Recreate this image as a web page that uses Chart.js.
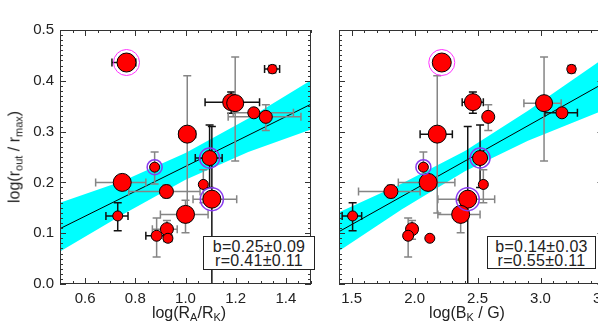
<!DOCTYPE html>
<html>
<head>
<meta charset="utf-8">
<script src="https://cdn.jsdelivr.net/npm/chart.js@4.4.0/dist/chart.umd.min.js"></script>
<style>
  html, body { margin: 0; padding: 0; background: #fff; overflow: hidden; width: 598px; height: 332px; }
  #wrap { position: relative; width: 640px; height: 332px; }
  canvas { position: absolute; top: 0; }
  #cL { left: 0; }
  #cR { left: 325px; }
  .lbl { position: absolute; font-family: 'Liberation Sans', Arial, sans-serif; font-size: 16px; color: #222; white-space: nowrap; z-index: 2; }
  .lbl sub { font-size: 11px; vertical-align: -3px; }
  .box { position: absolute; z-index: 2; border: 1px solid #222; background: #fff; box-sizing: border-box;
         font-family: 'Liberation Sans', Arial, sans-serif; font-size: 16px; line-height: 14px; color: #222;
         text-align: center; padding-top: 3px; letter-spacing: 0.3px; }
</style>
</head>
<body>
<div id="wrap">
  <canvas id="cL" width="325" height="332"></canvas>
  <canvas id="cR" width="300" height="332"></canvas>
  <div class="lbl" style="left:15px;top:157px;transform:translate(-50%,-50%) rotate(-90deg);">log(r<sub>out</sub> / r<sub>max</sub>)</div>
  <div class="lbl" style="left:189px;top:304px;transform:translateX(-50%);">log(R<sub>A</sub>/R<sub>K</sub>)</div>
  <div class="lbl" style="left:467px;top:304px;transform:translateX(-50%);">log(B<sub>K</sub> / G)</div>
  <div class="box" style="left:203px;top:236px;width:112px;height:34px;">b=0.25±0.09<br>r=0.41±0.11</div>
  <div class="box" style="left:487px;top:236px;width:109px;height:33px;">b=0.14±0.03<br>r=0.55±0.11</div>
</div>
<script>
// valeurs (un point par source, même ordre partout)
const logRout = [0.436, 0.423, 0.358, 0.356, 0.337, 0.329, 0.295, 0.248, 0.230, 0.200, 0.196, 0.182, 0.167, 0.137, 0.134, 0.108, 0.095, 0.090];
const yErrLo  = [null, 0.416, 0.336, 0.242, null, 0.302, 0.140, 0.190, 0.197, null, 0.160, 0.170, -0.05, 0.101, 0.105, 0.088, 0.053, null];
const yErrHi  = [null, 0.430, 0.378, 0.447, null, 0.353, 0.410, 0.313, 0.260, null, 0.225, 0.195, 0.310, 0.165, 0.160, 0.125, 0.130, null];

const logRatio   = [0.765, 1.346, 1.182, 1.198, 1.272, 1.320, 1.007, 1.096, 0.877, 0.748, 1.071, 0.924, 1.105, 1.000, 0.730, 0.926, 0.885, 0.930];
const ratioErrLo = [0.707, 1.315, 1.078, null, 1.190, 1.170, 0.975, 1.039, null, 0.642, 1.062, 0.774, 1.030, 0.900, 0.683, 0.868, 0.842, 0.915];
const ratioErrHi = [0.802, 1.375, 1.295, null, 1.430, 1.460, 1.040, 1.146, null, 0.842, 1.080, 1.058, 1.204, 1.090, 0.771, 0.967, 0.917, 0.945];

const logField   = [2.216, 3.246, 2.463, 3.028, 3.170, 2.585, 2.180, 2.520, 2.070, 2.108, 2.546, 1.812, 2.422, 2.366, 1.508, 1.980, 1.949, 2.121];
const fieldErrLo = [null, 3.235, 2.378, 2.868, 3.035, null, 2.044, 2.490, null, 1.871, 2.530, 1.555, 2.185, 2.185, 1.425, 1.950, null, 2.105];
const fieldErrHi = [null, 3.260, 2.546, 3.164, 3.293, null, 2.300, 2.560, null, 2.320, 2.565, 2.044, 2.636, 2.520, 1.580, 2.020, null, 2.140];

// points entourés
const magentaIdx = [0];
const violetIdx = [7, 8, 12];

// ajustement + bande de confiance
const ratioFitX = [0.5, 1.5];
const ratioFitY = [0.109, 0.354];
const ratioBandX  = [0.5, 0.75, 1.0, 1.25, 1.5];
const ratioBandHi = [0.160, 0.203, 0.258, 0.326, 0.401];
const ratioBandLo = [0.064, 0.137, 0.205, 0.260, 0.304];

const fieldFitX = [1.4, 3.5];
const fieldFitY = [0.103, 0.395];
const fieldBandX  = [1.4, 1.9, 2.4, 2.9, 3.5];
const fieldBandHi = [0.141, 0.198, 0.262, 0.341, 0.444];
const fieldBandLo = [0.065, 0.147, 0.222, 0.282, 0.342];

// étiquettes des axes
const ratioTicks = [0.6, 0.8, 1.0, 1.2, 1.4];
const fieldTicks = [1.5, 2.0, 2.5, 3.0, 3.5];
const routTicks  = [0.0, 0.1, 0.2, 0.3, 0.4, 0.5];

// style : taille des symboles, teinte des barres (k = noir, g = gris)
const markerR = [9.5, 4.7, 8.5, 8.5, 6, 6.5, 9, 7.5, 5, 9, 5, 7, 9, 9, 5, 6.5, 5.5, 5];
const yShade     = ['k','k','k','g','k','g','g','k','g','k','g','g','k','g','k','g','g','k'];
const ratioShade = ['k','k','k','k','g','g','k','k','k','g','k','g','g','g','k','g','k','k'];
const fieldShade = ['k','k','k','g','k','k','k','k','k','g','k','g','g','g','k','k','k','k'];

const FONT = "'Liberation Sans', Arial, sans-serif";
const shadeColor = s => (s === 'g' ? '#858585' : '#111');

// barres d'erreur, dessinées juste avant les symboles
const errBars = {
  id: 'errBars',
  beforeDatasetDraw(chart, args, o) {
    if (chart.data.datasets[args.index].label !== 'pts') return;
    const { ctx, chartArea: a, scales: { x, y } } = chart;
    const cap = 4;
    ctx.save();
    ctx.beginPath();
    ctx.rect(a.left, a.top, a.right - a.left, a.bottom - a.top);
    ctx.clip();
    ctx.lineWidth = 1.5;
    for (let i = 0; i < o.xs.length; i++) {
      const px = x.getPixelForValue(o.xs[i]);
      const py = y.getPixelForValue(logRout[i]);
      if (yErrLo[i] !== null) {
        const y1 = y.getPixelForValue(yErrLo[i]), y2 = y.getPixelForValue(yErrHi[i]);
        ctx.strokeStyle = shadeColor(yShade[i]);
        ctx.beginPath();
        ctx.moveTo(px, y1); ctx.lineTo(px, y2);
        ctx.moveTo(px - cap, y1); ctx.lineTo(px + cap, y1);
        ctx.moveTo(px - cap, y2); ctx.lineTo(px + cap, y2);
        ctx.stroke();
      }
      if (o.lo[i] !== null) {
        const x1 = x.getPixelForValue(o.lo[i]), x2 = x.getPixelForValue(o.hi[i]);
        ctx.strokeStyle = shadeColor(o.shade[i]);
        ctx.beginPath();
        ctx.moveTo(x1, py); ctx.lineTo(x2, py);
        ctx.moveTo(x1, py - cap); ctx.lineTo(x1, py + cap);
        ctx.moveTo(x2, py - cap); ctx.lineTo(x2, py + cap);
        ctx.stroke();
      }
    }
    ctx.restore();
  }
};

// cadre + graduations intérieures façon IDL
const frame = {
  id: 'frame',
  afterDraw(chart, args, o) {
    const { ctx, chartArea: a, scales: { x, y } } = chart;
    ctx.save();
    ctx.strokeStyle = '#333';
    ctx.lineWidth = 1;
    ctx.strokeRect(Math.round(a.left) + 0.5, Math.round(a.top) + 0.5,
                   Math.round(a.right - a.left) - 1, Math.round(a.bottom - a.top) - 1);
    ctx.beginPath();
    const nx = Math.round((x.max - x.min) / o.xMinor);
    for (let k = 0; k <= nx; k++) {
      const v = x.min + k * o.xMinor;
      const r = v / o.xMajor;
      const len = Math.abs(r - Math.round(r)) < 1e-6 ? 6 : 3;
      const px = Math.round(x.getPixelForValue(v)) + 0.5;
      ctx.moveTo(px, a.bottom); ctx.lineTo(px, a.bottom - len);
      ctx.moveTo(px, a.top); ctx.lineTo(px, a.top + len);
    }
    const ny = Math.round((y.max - y.min) / 0.01);
    for (let k = 0; k <= ny; k++) {
      const v = y.min + k * 0.01;
      const len = k % 10 === 0 ? 6 : 3;
      const py = Math.round(y.getPixelForValue(v)) + 0.5;
      ctx.moveTo(a.left, py); ctx.lineTo(a.left + len, py);
      ctx.moveTo(a.right, py); ctx.lineTo(a.right - len, py);
    }
    ctx.stroke();
    ctx.restore();
  }
};

function makePanel(id, p) {
  const pts = p.xs.map((x, i) => ({ x: x, y: logRout[i] }));
  const ring = idx => idx.map(i => ({ x: p.xs[i], y: logRout[i] }));
  const xy = (xs, ys) => xs.map((x, i) => ({ x: x, y: ys[i] }));

  return new Chart(document.getElementById(id), {
    type: 'scatter',
    data: {
      datasets: [
        { label: 'ringM', data: ring(magentaIdx), pointRadius: magentaIdx.map(i => markerR[i] + 3.5),
          pointBackgroundColor: 'rgba(0,0,0,0)', pointBorderColor: '#ff33ff', pointBorderWidth: 1, order: 0 },
        { label: 'ringV', data: ring(violetIdx), pointRadius: violetIdx.map(i => markerR[i] + 2.5),
          pointBackgroundColor: 'rgba(0,0,0,0)', pointBorderColor: '#8a3cf0', pointBorderWidth: 1.5, order: 0 },
        { label: 'pts', data: pts, pointRadius: markerR, pointBackgroundColor: '#ff0000',
          pointBorderColor: '#000', pointBorderWidth: 1, order: 1 },
        { type: 'line', label: 'fit', data: xy(p.fitX, p.fitY), borderColor: '#000', borderWidth: 1,
          pointRadius: 0, fill: false, order: 2 },
        { type: 'line', label: 'bandHi', data: xy(p.bandX, p.bandHi), borderColor: 'rgba(0,0,0,0)',
          borderWidth: 1, pointRadius: 0, fill: '+1', backgroundColor: '#00ffff', order: 3 },
        { type: 'line', label: 'bandLo', data: xy(p.bandX, p.bandLo), borderColor: 'rgba(0,0,0,0)',
          borderWidth: 1, pointRadius: 0, fill: false, order: 4 }
      ]
    },
    options: {
      responsive: false,
      animation: false,
      events: [],
      layout: { padding: { top: 30, right: p.padRight, left: 0, bottom: 0 } },
      plugins: {
        legend: { display: false },
        tooltip: { enabled: false },
        errBars: { xs: p.xs, lo: p.lo, hi: p.hi, shade: p.shade },
        frame: { xMinor: p.xMinor, xMajor: p.xMajor }
      },
      scales: {
        x: {
          type: 'linear', min: p.xMin, max: p.xMax,
          afterBuildTicks: s => { s.ticks = p.xTicks.map(v => ({ value: v })); },
          afterFit: s => { s.height = 48; },
          grid: { display: false, drawTicks: false },
          border: { display: false },
          ticks: { padding: 6, autoSkip: false, maxRotation: 0, color: '#222',
                   font: { family: FONT, size: 15 }, callback: v => v.toFixed(1) }
        },
        y: {
          type: 'linear', min: 0, max: 0.5,
          afterBuildTicks: s => { s.ticks = routTicks.map(v => ({ value: v })); },
          afterFit: s => { s.width = p.yWidth; },
          grid: { display: false, drawTicks: false },
          border: { display: false },
          ticks: { display: p.yLabels, padding: 6, autoSkip: false, color: '#222',
                   font: { family: FONT, size: 15 }, callback: v => v.toFixed(1) }
        }
      }
    },
    plugins: [errBars, frame]
  });
}

makePanel('cL', {
  xs: logRatio, lo: ratioErrLo, hi: ratioErrHi, shade: ratioShade,
  fitX: ratioFitX, fitY: ratioFitY, bandX: ratioBandX, bandHi: ratioBandHi, bandLo: ratioBandLo,
  xMin: 0.5, xMax: 1.5, xTicks: ratioTicks, xMinor: 0.05, xMajor: 0.2,
  yWidth: 60, yLabels: true, padRight: 7
});

makePanel('cR', {
  xs: logField, lo: fieldErrLo, hi: fieldErrHi, shade: fieldShade,
  fitX: fieldFitX, fitY: fieldFitY, bandX: fieldBandX, bandHi: fieldBandHi, bandLo: fieldBandLo,
  xMin: 1.4, xMax: 3.5, xTicks: fieldTicks, xMinor: 0.1, xMajor: 0.5,
  yWidth: 6.7, yLabels: false, padRight: 21.5
});
</script>
</body>
</html>
